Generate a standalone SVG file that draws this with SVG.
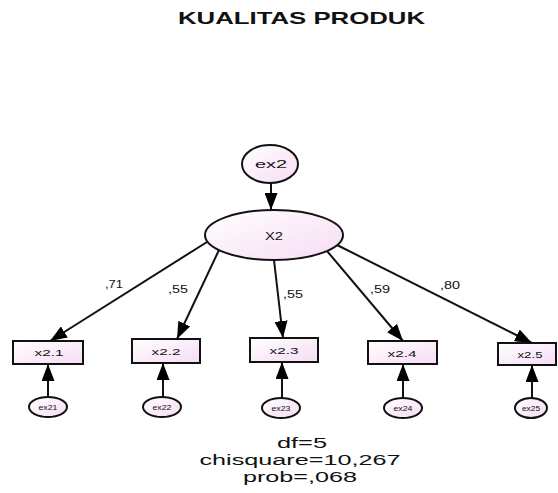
<svg xmlns="http://www.w3.org/2000/svg" width="558" height="493" viewBox="0 0 558 493">
  <defs>
    <linearGradient id="fillPink" x1="0" y1="0" x2="1" y2="1">
      <stop offset="0" stop-color="#ffffff"/>
      <stop offset="1" stop-color="#f6dcf4"/>
    </linearGradient>
    <marker id="head" markerUnits="userSpaceOnUse" markerWidth="17" markerHeight="13" refX="17" refY="6.5" orient="auto">
      <path d="M0,0 L17,6.5 L0,13 z" fill="#000"/>
    </marker>
  </defs>
  <style>
    .node { fill: url(#fillPink); stroke: #111; stroke-width: 2; }
    .link { stroke: #111; stroke-width: 2; fill: none; marker-end: url(#head); }
    text { font-family: "Liberation Sans", Arial, sans-serif; fill: #111; text-anchor: middle; }
    .title { font-weight: bold; font-size: 17px; }
    .lat { font-size: 11px; }
    .obs { font-size: 9px; }
    .err { font-size: 7px; }
    .coef { font-size: 10px; }
    .fit { font-size: 15.5px; }
  </style>
  <rect width="558" height="493" fill="#ffffff"/>

  <text class="title" x="301.5" y="24" textLength="247" lengthAdjust="spacingAndGlyphs">KUALITAS PRODUK</text>

  <!-- paths and error arrows -->
  <g id="connectors">
    <line class="link" x1="271" y1="183" x2="271" y2="210"/>
    <line class="link" x1="207" y1="242" x2="50" y2="341"/>
    <line class="link" x1="219" y1="250" x2="177" y2="339"/>
    <line class="link" x1="274" y1="260" x2="283" y2="338"/>
    <line class="link" x1="327" y1="251" x2="403" y2="341"/>
    <line class="link" x1="337" y1="245" x2="532" y2="343"/>
    <line class="link" x1="48" y1="397" x2="48" y2="364"/>
    <line class="link" x1="163" y1="397" x2="163" y2="363"/>
    <line class="link" x1="282" y1="398" x2="282" y2="362"/>
    <line class="link" x1="403" y1="398" x2="403" y2="364"/>
    <line class="link" x1="532" y1="398" x2="532" y2="365"/>
    <text class="coef" x="114" y="288" textLength="18" lengthAdjust="spacingAndGlyphs">,71</text>
    <text class="coef" x="178" y="293" textLength="20" lengthAdjust="spacingAndGlyphs">,55</text>
    <text class="coef" x="293" y="298" textLength="20" lengthAdjust="spacingAndGlyphs">,55</text>
    <text class="coef" x="380" y="293" textLength="20" lengthAdjust="spacingAndGlyphs">,59</text>
    <text class="coef" x="450" y="289" textLength="20" lengthAdjust="spacingAndGlyphs">,80</text>
  </g>

  <g id="ex2">
    <ellipse class="node" cx="270" cy="164" rx="28" ry="19"/>
    <text class="lat" x="271" y="168" font-size="12" textLength="32" lengthAdjust="spacingAndGlyphs">ex2</text>
  </g>
  <g id="X2">
    <ellipse class="node" cx="274" cy="235" rx="69" ry="25"/>
    <text class="lat" x="274" y="240" textLength="18" lengthAdjust="spacingAndGlyphs">X2</text>
  </g>

  <g id="x2.1">
    <rect class="node" x="13" y="341" width="70" height="23"/>
    <text class="obs" x="49" y="356" textLength="29" lengthAdjust="spacingAndGlyphs">x2.1</text>
  </g>
  <g id="x2.2">
    <rect class="node" x="132" y="339" width="68" height="24"/>
    <text class="obs" x="166" y="355" textLength="29" lengthAdjust="spacingAndGlyphs">x2.2</text>
  </g>
  <g id="x2.3">
    <rect class="node" x="250" y="338" width="68" height="24"/>
    <text class="obs" x="284" y="354" textLength="29" lengthAdjust="spacingAndGlyphs">x2.3</text>
  </g>
  <g id="x2.4">
    <rect class="node" x="368" y="341" width="69" height="23"/>
    <text class="obs" x="402" y="357" textLength="29" lengthAdjust="spacingAndGlyphs">x2.4</text>
  </g>
  <g id="x2.5">
    <rect class="node" x="498" y="343" width="58" height="22"/>
    <text class="obs" x="530" y="358" textLength="25" lengthAdjust="spacingAndGlyphs">x2.5</text>
  </g>

  <g id="ex21">
    <ellipse class="node" cx="48" cy="407" rx="19" ry="10"/>
    <text class="err" x="48" y="410" textLength="19" lengthAdjust="spacingAndGlyphs">ex21</text>
  </g>
  <g id="ex22">
    <ellipse class="node" cx="162" cy="407" rx="19" ry="10"/>
    <text class="err" x="162" y="410" textLength="19" lengthAdjust="spacingAndGlyphs">ex22</text>
  </g>
  <g id="ex23">
    <ellipse class="node" cx="281" cy="408" rx="19" ry="10"/>
    <text class="err" x="281" y="411" textLength="19" lengthAdjust="spacingAndGlyphs">ex23</text>
  </g>
  <g id="ex24">
    <ellipse class="node" cx="403" cy="408" rx="19" ry="10"/>
    <text class="err" x="403" y="411" textLength="19" lengthAdjust="spacingAndGlyphs">ex24</text>
  </g>
  <g id="ex25">
    <ellipse class="node" cx="531" cy="408" rx="16" ry="10"/>
    <text class="err" x="531" y="411" textLength="18" lengthAdjust="spacingAndGlyphs">ex25</text>
  </g>

  <text class="fit" x="302" y="448" textLength="50" lengthAdjust="spacingAndGlyphs">df=5</text>
  <text class="fit" x="300" y="465" textLength="201" lengthAdjust="spacingAndGlyphs">chisquare=10,267</text>
  <text class="fit" x="300" y="482" textLength="114" lengthAdjust="spacingAndGlyphs">prob=,068</text>
</svg>
